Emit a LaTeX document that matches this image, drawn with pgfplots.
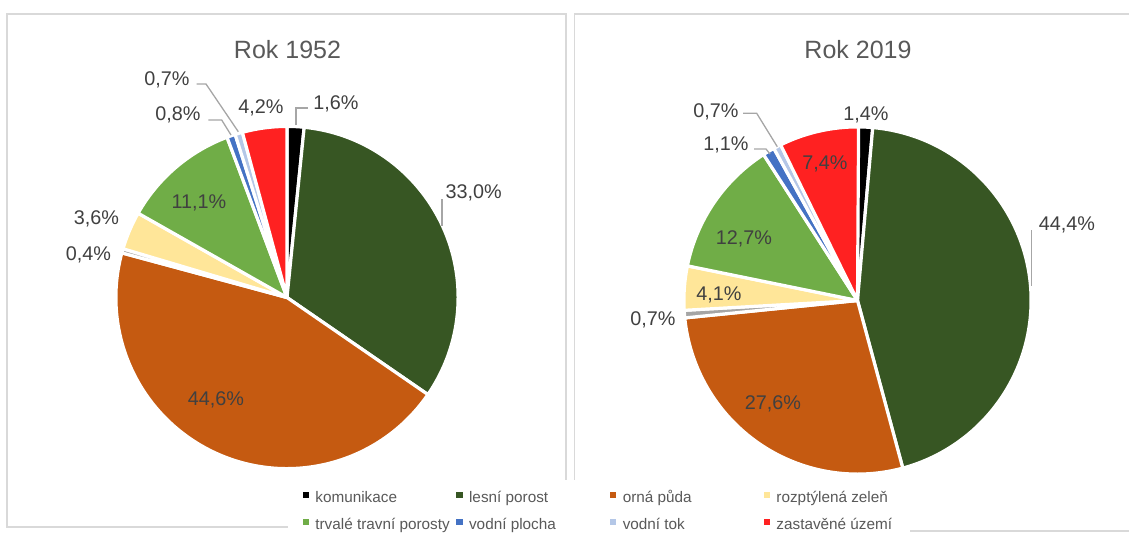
\documentclass[border=0pt]{standalone}
\usepackage{pgfplots}
\usepackage{pgfplotstable}
\pgfplotsset{compat=1.18}
\usepackage{fontspec}
\setmainfont{Liberation Sans}

\definecolor{ckom}{HTML}{000000}
\definecolor{cles}{HTML}{375623}
\definecolor{corn}{HTML}{C55A11}
\definecolor{cost}{HTML}{A5A5A5}
\definecolor{croz}{HTML}{FFE699}
\definecolor{ctrv}{HTML}{70AD47}
\definecolor{cplo}{HTML}{4472C4}
\definecolor{ctok}{HTML}{B4C7E7}
\definecolor{czas}{HTML}{FF2121}
\definecolor{ctext}{HTML}{404040}
\definecolor{ctitle}{HTML}{595959}
\definecolor{cframe}{HTML}{D9D9D9}
\definecolor{clead}{HTML}{A6A6A6}

% 1952
\pgfplotstableread{
cat value color lx ly
komunikace 1.6 ckom 336 102
lesni 33.0 cles 473.6 191
orna 44.6 corn 216 398.5
ostatni 0.4 cost 88.4 253
rozptylena 3.6 croz 96.4 217
travni 11.1 ctrv 199 201
plocha 0.8 cplo 178 113.5
tok 0.7 ctok 167 78.5
zastavene 4.2 czas 261 106
}\dataA

% 2019
\pgfplotstableread{
cat value color lx ly
komunikace 1.4 ckom 866 113
lesni 44.4 cles 1067 223
orna 27.6 corn 773 402
ostatni 0.7 cost 653 318
rozptylena 4.1 croz 719 293.5
travni 12.7 ctrv 744 237
plocha 1.1 cplo 726 143
tok 0.7 ctok 716 110
zastavene 7.4 czas 825 162
}\dataB

\tikzset{
  lbl/.style={font=\fontsize{19.8bp}{23bp}\selectfont, text=ctext, anchor=base, inner sep=0pt},
  ttl/.style={font=\fontsize{25bp}{29bp}\selectfont, text=ctitle, anchor=base, inner sep=0pt},
}

\newcommand\drawpie[4]{%
  \pgfplotstablegetrowsof{#1}%
  \pgfmathtruncatemacro\N{\pgfplotsretval-1}%
  \def\a{90}%
  \pgfplotsforeachungrouped \i in {0,...,\N}{%
    \pgfplotstablegetelem{\i}{value}\of{#1}\let\v\pgfplotsretval
    \pgfplotstablegetelem{\i}{color}\of{#1}\let\c\pgfplotsretval
    \pgfmathsetmacro\b{\a-3.6*\v}%
    \pgfmathsetmacro\rr{#4+1.6}%
    \edef\temp{\noexpand\fill[\c, draw=white, line width=3.2bp, line join=round]
      (axis cs:#2,#3) -- ++(\a:\rr bp) arc[start angle=\a, end angle=\b, radius=\rr bp] -- cycle;}%
    \temp
    \let\a\b
  }%
}
\newcommand\drawlabels[1]{%
  \pgfplotstablegetrowsof{#1}%
  \pgfmathtruncatemacro\N{\pgfplotsretval-1}%
  \pgfplotsforeachungrouped \i in {0,...,\N}{%
    \pgfplotstablegetelem{\i}{value}\of{#1}\let\v\pgfplotsretval
    \pgfplotstablegetelem{\i}{lx}\of{#1}\let\lx\pgfplotsretval
    \pgfplotstablegetelem{\i}{ly}\of{#1}\let\lyy\pgfplotsretval
    \pgfmathsetmacro\ly{\lyy+7}%
    \edef\temp{\noexpand\node[lbl] at (axis cs:\lx,\ly)
      {\noexpand\pgfmathprintnumber[fixed,fixed zerofill,precision=1,use comma,assume math mode=true]{\v}\noexpand\%};}%
    \temp
  }%
}

\begin{document}
\begin{tikzpicture}
\begin{axis}[
  x=1bp, y=1bp,
  xmin=0, xmax=1129, ymin=0, ymax=533,
  y dir=reverse,
  hide axis,
  enlargelimits=false,
  legend columns=4,
  legend cell align=left,
  legend image code/.code={\fill[#1] (0bp,1.5bp) rectangle (5.3bp,7bp);},
  legend style={at={(axis cs:288,479.5)}, anchor=north west, draw=none, fill=white,
    inner xsep=14.5bp, inner ysep=12bp,
    font=\fontsize{15.3bp}{18bp}\selectfont, text=ctitle,
    nodes={inner sep=0pt, text height=11bp, text depth=3.5bp},
    /tikz/every odd column/.append style={column sep=7bp},
    /tikz/row sep=12.5bp},
]
% frames
\draw[cframe, line width=1.2bp] (axis cs:7,14) rectangle (axis cs:566,527);
\draw[cframe, line width=1.2bp] (axis cs:574.5,14) rectangle (axis cs:1140,531);

% pies
\drawpie{\dataA}{287}{297.5}{169.5}
\drawpie{\dataB}{857.5}{300.5}{172}

% leader lines
\addplot[clead, line width=1.3bp, forget plot] coordinates {(296,125) (296,108) (308.3,108)};
\addplot[clead, line width=1.3bp, forget plot] coordinates {(196.7,84) (206,84) (238.3,131.7)};
\addplot[clead, line width=1.3bp, forget plot] coordinates {(208.3,120) (221.7,120) (231,135)};
\addplot[clead, line width=1.3bp, forget plot] coordinates {(442,199) (442,226)};
\addplot[clead, line width=1.3bp, forget plot] coordinates {(743,113.3) (756.7,113.3) (777.3,146.7)};
\addplot[clead, line width=1.3bp, forget plot] coordinates {(754,149) (766,149) (770,154)};
\addplot[clead, line width=1.3bp, forget plot] coordinates {(1031.7,230) (1031.7,286)};

% labels
\drawlabels{\dataA}
\drawlabels{\dataB}

% titles
\node[ttl] at (axis cs:287.5,58) {Rok 1952};
\node[ttl] at (axis cs:858,58) {Rok 2019};

% legend
\addlegendimage{ckom}\addlegendentry{\makebox[141bp][l]{komunikace}}
\addlegendimage{cles}\addlegendentry{\makebox[141bp][l]{lesní porost}}
\addlegendimage{corn}\addlegendentry{\makebox[141bp][l]{orná půda}}
\addlegendimage{croz}\addlegendentry{\makebox[119bp][l]{rozptýlená zeleň}}
\addlegendimage{ctrv}\addlegendentry{\makebox[141bp][l]{trvalé travní porosty}}
\addlegendimage{cplo}\addlegendentry{\makebox[141bp][l]{vodní plocha}}
\addlegendimage{ctok}\addlegendentry{\makebox[141bp][l]{vodní tok}}
\addlegendimage{czas}\addlegendentry{\makebox[119bp][l]{zastavěné území}}
\end{axis}
\pgfresetboundingbox
\path[use as bounding box] (0,0) rectangle (1129bp,533bp);
\end{tikzpicture}
\end{document}
